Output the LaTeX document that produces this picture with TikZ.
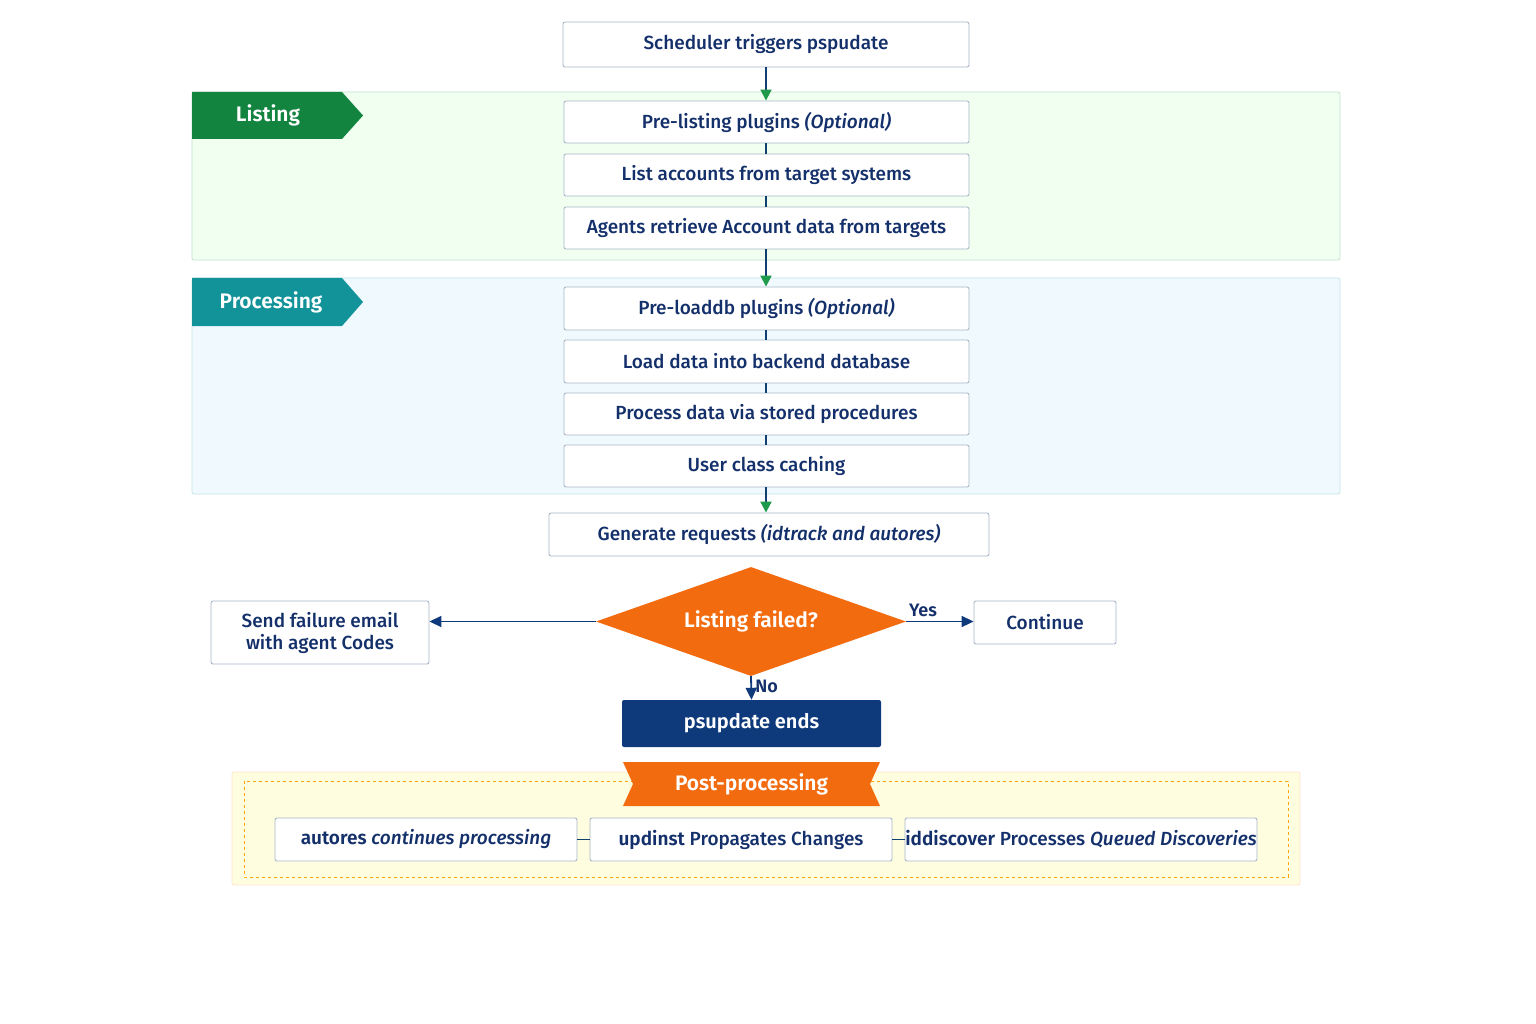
\documentclass[tikz,border=0pt]{standalone}
\usepackage{fontspec}
\setmainfont{Fira Sans}[UprightFont=* Medium, ItalicFont=* Medium Italic, BoldFont=* SemiBold, BoldItalicFont=* SemiBold Italic]
\usetikzlibrary{arrows.meta,shapes.geometric}
\definecolor{navy}{HTML}{14306B}
\definecolor{gtag}{HTML}{12843F}
\definecolor{ttag}{HTML}{12939A}
\definecolor{orng}{HTML}{F26B0F}
\definecolor{dblue}{HTML}{0E3A7C}
\definecolor{bord}{HTML}{A9B8C8}
\definecolor{arrg}{HTML}{1E9A4A}
\begin{document}
\begin{tikzpicture}[x=1pt,y=-1pt,
  box/.style={draw=bord,fill=white,rounded corners=2pt,line width=0.9pt,text=navy,font=\fontsize{19}{22}\selectfont,inner sep=0pt},
  link/.style={draw=navy!80!teal,line width=2pt},
  garrow/.style={draw=navy!80!teal,line width=2pt,-{Triangle[length=11pt,width=11pt,fill=arrg,color=arrg]}},
  barrow/.style={draw=dblue,line width=1.8pt,-{Triangle[length=12pt,width=11pt]}},
  lbl/.style={text=navy,font=\fontsize{18}{20}\selectfont\bfseries}]
\useasboundingbox (0,0) rectangle (1536,1024);
\fill[white] (0,0) rectangle (1536,1024);
% panels
\draw[draw=gtag!25,fill=green!6!white,line width=0.8pt,rounded corners=2pt] (192,92) rectangle (1340,260);
\draw[draw=ttag!25,fill=cyan!6!white,line width=0.8pt,rounded corners=2pt] (192,278) rectangle (1340,494);
\fill[gtag] (192,92) -- (342,92) -- (363,115.5) -- (342,139) -- (192,139) -- cycle;
\node[text=white,font=\fontsize{21}{24}\selectfont\bfseries] (tl) at (268,115.5) {Listing};
\fill[ttag] (192,278) -- (342,278) -- (363,302) -- (342,326) -- (192,326) -- cycle;
\node[text=white,font=\fontsize{21}{24}\selectfont\bfseries] (tp) at (271,302) {Processing};
% post panel
\draw[draw=orange!20,fill=yellow!12!white,line width=0.8pt,rounded corners=2pt] (232,772) rectangle (1300,885);
\draw[draw=orange!70!yellow,dashed,line width=0.9pt] (244,781) rectangle (1288,877);
% boxes
\node[box,minimum width=406,minimum height=45] (s) at (766,44.5) {Scheduler triggers pspudate};
\node[box,minimum width=405,minimum height=42] (p1) at (766.5,122) {Pre-listing plugins \textit{(Optional)}};
\node[box,minimum width=405,minimum height=42] (p2) at (766.5,175) {List accounts from target systems};
\node[box,minimum width=405,minimum height=42] (p3) at (766.5,228) {Agents retrieve Account data from targets};
\node[box,minimum width=405,minimum height=43] (q1) at (766.5,308.5) {Pre-loaddb plugins \textit{(Optional)}};
\node[box,minimum width=405,minimum height=43] (q2) at (766.5,361.5) {Load data into backend database};
\node[box,minimum width=405,minimum height=42] (q3) at (766.5,414) {Process data via stored procedures};
\node[box,minimum width=405,minimum height=42] (q4) at (766.5,466) {User class caching};
\node[box,minimum width=440,minimum height=43] (g) at (769,534.5) {Generate requests \textit{(idtrack and autores)}};
\node[diamond,aspect=2.85,fill=orng,minimum width=310,minimum height=109,inner sep=0pt,text=white,font=\fontsize{21}{24}\selectfont\bfseries] (d) at (751,621.5) {Listing failed?};
\node[box,minimum width=218,minimum height=63,align=center,font=\fontsize{19}{22}\selectfont] (f) at (320,632.5) {Send failure email\\with agent Codes};
\node[box,minimum width=142,minimum height=43] (c) at (1045,622.5) {Continue};
\node[fill=dblue,rounded corners=2pt,minimum width=259,minimum height=47,text=white,font=\fontsize{20}{23}\selectfont\bfseries] (e) at (751.5,723.5) {psupdate ends};
% post-processing banner
\fill[orng] (623,762) -- (880,762) -- (870,784) -- (880,806) -- (623,806) -- (633,784) -- cycle;
\node[text=white,font=\fontsize{21}{24}\selectfont\bfseries] (pp) at (751.5,784) {Post-processing};
\node[box,minimum width=302,minimum height=43] (a1) at (426,839.5) {\textbf{autores} \textit{continues processing}};
\node[box,minimum width=302,minimum height=43] (a2) at (741,839.5) {\textbf{updinst} Propagates Changes};
\node[box,minimum width=352,minimum height=43] (a3) at (1081,839.5) {\textbf{iddiscover} Processes \textit{Queued Discoveries}};
% connectors
\draw[garrow] (s.south -| 766,0) -- (p1.north -| 766,0);
\draw[link] (p1.south -| 766,0) -- (p2.north -| 766,0);
\draw[link] (p2.south -| 766,0) -- (p3.north -| 766,0);
\draw[garrow] (p3.south -| 766,0) -- (q1.north -| 766,0);
\draw[link] (q1.south -| 766,0) -- (q2.north -| 766,0);
\draw[link] (q2.south -| 766,0) -- (q3.north -| 766,0);
\draw[link] (q3.south -| 766,0) -- (q4.north -| 766,0);
\draw[garrow] (q4.south -| 766,0) -- (g.north -| 766,0);
\draw[barrow] (d.west) -- (f.east |- d.west);
\draw[barrow] (d.east) -- node[lbl,above,pos=0.25] {Yes} (c.west |- d.east);
\draw[barrow] (d.south) -- node[lbl,right,pos=0.45] {No} (e.north);
\draw[link,line width=1.4pt] (a1.east) -- (a2.west);
\draw[link,line width=1.4pt] (a2.east) -- (a3.west);
\end{tikzpicture}
\end{document}
